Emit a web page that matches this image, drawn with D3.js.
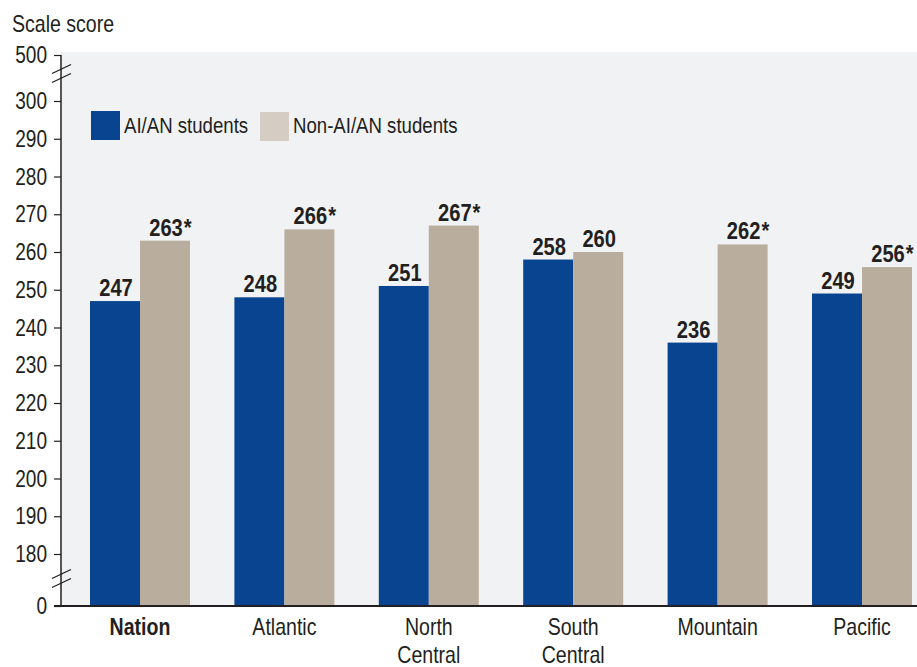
<!DOCTYPE html>
<html><head><meta charset="utf-8">
<script src="https://cdn.jsdelivr.net/npm/d3@7"></script>
<style>
body{margin:0;background:#fff;}
text{font-family:"Liberation Sans",Arial,sans-serif;fill:#231f20;}
</style></head>
<body>
<svg id="c" width="917" height="667"></svg>
<script>
const categories = ["Nation","Atlantic","North Central","South Central","Mountain","Pacific"];
const categoryLines = [["Nation"],["Atlantic"],["North","Central"],["South","Central"],["Mountain"],["Pacific"]];
const seriesNames = ["AI/AN students","Non-AI/AN students"];
const aianValues = [247,248,251,258,236,249];
const nonAianValues = [263,266,267,260,262,256];
const significant = [true,true,true,false,true,true];
const tickValues = [0,180,190,200,210,220,230,240,250,260,270,280,290,300,500];

const svg = d3.select("#c");
const colBlue = "#08448f", colBeige = "#b9ae9e", colBeigeLegend = "#d5cdc3";
const SX = 0.85;

function label(parent, px, py, str, opts){
  opts = opts || {};
  const t = parent.append("text")
    .attr("transform",`translate(${px},${py}) scale(${opts.sx||SX},1)`)
    .attr("text-anchor",opts.anchor||"start")
    .style("font-size",(opts.size||23)+"px")
    .style("font-weight",opts.bold?"bold":"normal")
    .text(str);
  return t;
}

// plot background
const plotL = 61, plotR = 917, plotT = 52, plotB = 606;
svg.append("rect").attr("x",plotL).attr("y",plotT).attr("width",plotR-plotL).attr("height",plotB-plotT).attr("fill","#f1f2f4");

// broken y scale
const y = d3.scaleLinear().domain([0,180,300,500]).range([606,554,101,55]);

const x = d3.scaleBand().domain(categories).range([67.8, 67.8+6*144.4]).paddingInner(0.3075).paddingOuter(0.15375);
const xs = d3.scaleBand().domain(["aian","non"]).range([0,x.bandwidth()]);

// axis
const axis = svg.append("g").attr("transform",`translate(${plotL},0)`)
  .call(d3.axisLeft(y).tickValues(tickValues).tickSize(7).tickFormat(""));
axis.select(".domain").remove();
axis.selectAll(".tick line").attr("stroke","#231f20").attr("stroke-width",1.2);
tickValues.forEach(v=>{
  label(svg, 47, y(v)+8, d3.format("d")(v), {anchor:"end", size:23, sx:0.83});
});
svg.append("line").attr("x1",plotL).attr("x2",plotL).attr("y1",y(500)).attr("y2",plotB).attr("stroke","#231f20").attr("stroke-width",1.5);
// break marks
[[69,78],[574,583]].forEach(([a,b])=>{
  [a,b].forEach(c=>{
    svg.append("line").attr("x1",52).attr("y1",c+4.5).attr("x2",71).attr("y2",c-4.5)
      .attr("stroke","#231f20").attr("stroke-width",1.3);
  });
});

// bars
const g = svg.append("g");
categories.forEach((c,i)=>{
  const vals = [["aian",aianValues[i],colBlue,false],["non",nonAianValues[i],colBeige,significant[i]]];
  vals.forEach(([k,v,col,sig])=>{
    const bx = x(c)+xs(k);
    g.append("rect").attr("x",bx).attr("y",y(v)).attr("width",xs.bandwidth()).attr("height",y(0)-y(v)).attr("fill",col);
    const cx = bx+xs.bandwidth()/2 + 1;
    const t = label(g, cx, y(v)-5, String(v), {anchor:"middle", size:24, bold:true, sx:0.84});
    if(sig){
      const w = t.node().getComputedTextLength()*0.84;
      label(g, cx+w/2+1, y(v)-5, "*", {size:24, bold:true, sx:0.84});
    }
  });
});

// baseline
svg.append("line").attr("x1",54).attr("x2",plotR).attr("y1",plotB).attr("y2",plotB).attr("stroke","#231f20").attr("stroke-width",2);

// category labels
categories.forEach((c,i)=>{
  categoryLines[i].forEach((ln,j)=>{
    label(svg, x(c)+x.bandwidth()/2, 635+j*28, ln, {anchor:"middle", size:23, bold:i===0});
  });
});

// title
label(svg, 12, 32, "Scale score", {size:23});

// legend
const leg = [[91,111,colBlue,seriesNames[0]],[260,112,colBeigeLegend,seriesNames[1]]];
leg.forEach(([lx,ly,col,name])=>{
  svg.append("rect").attr("x",lx).attr("y",ly).attr("width",29).attr("height",29).attr("fill",col);
  label(svg, lx+33, 133, name, {size:23, sx:0.81});
});
</script>
</body></html>
